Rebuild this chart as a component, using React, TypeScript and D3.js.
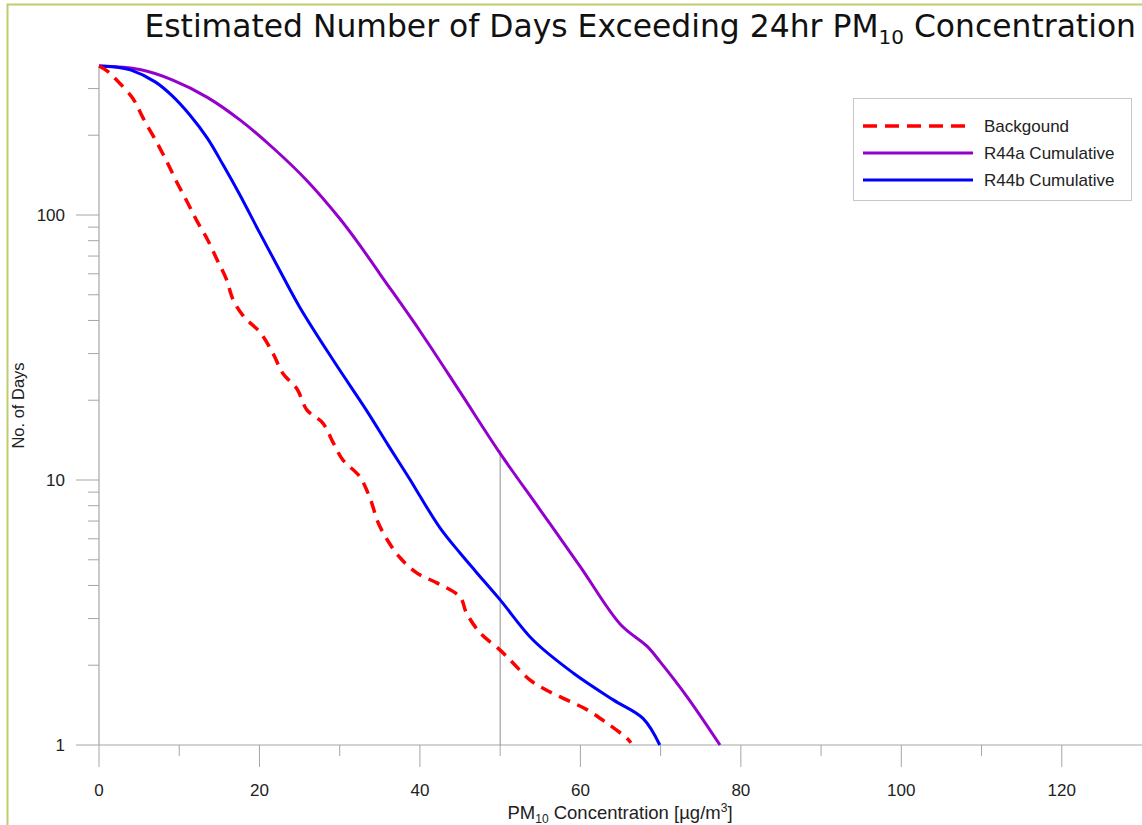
import React, { useEffect, useRef } from "react";
import * as d3 from "d3";

// [PM10 concentration, no. of days]
const background: [number, number][] = [
  [0, 365], [1, 350], [2.2, 323], [4.2, 276], [5.5, 232], [7.2, 188], [8.5, 158],
  [9.7, 133], [11, 112], [12.2, 95], [13.5, 81], [14.7, 68], [15.9, 57], [16.7, 48],
  [18, 41.5], [20.1, 36], [21.7, 30], [22.9, 25.3], [24.7, 22], [25.9, 18.4],
  [27.9, 16.4], [29.2, 13.8], [30.4, 11.9], [32.5, 10.3], [33.8, 8.5], [34.8, 6.9],
  [36, 5.9], [37.5, 5.1], [39.6, 4.46], [42.1, 4.09], [45, 3.62], [45.8, 3.15],
  [47.5, 2.65], [50, 2.28], [51.6, 2.04], [53.7, 1.76], [55.8, 1.61], [58.3, 1.48],
  [60.8, 1.36], [63.3, 1.21], [65.8, 1.06], [66.3, 1.02],
];

const r44a: [number, number][] = [
  [0, 365], [5.1, 354], [9.2, 323], [13.5, 278], [17.6, 228], [21.7, 179],
  [25.9, 135], [30, 97], [32.5, 77], [35, 60], [40, 36.5], [45, 21.5], [50, 12.6],
  [55, 7.7], [60, 4.7], [65, 2.85], [68.3, 2.36], [70, 2.05], [73.3, 1.52], [77.4, 1],
];

const r44b: [number, number][] = [
  [0, 365], [2, 362], [4, 352], [7, 318], [9, 284], [11.3, 239], [13.5, 195],
  [15.5, 154], [17.5, 120], [20, 86], [22.5, 62], [25, 45], [29.2, 28.3],
  [33.4, 18.2], [36, 13.6], [38.8, 10], [40, 8.7], [42.5, 6.6], [45, 5.3], [47, 4.5],
  [50, 3.53], [54.1, 2.49], [59.1, 1.87], [64.1, 1.48], [67.8, 1.26], [69.9, 1],
];

const seriesNames = ["Backgound", "R44a Cumulative", "R44b Cumulative"];
const seriesColors = ["#ff0000", "#9400cc", "#0000ff"];

const xMajorTicks = [0, 20, 40, 60, 80, 100, 120];
const xMinorTicks = [10, 30, 50, 70, 90, 110];
const yMajorTicks = [1, 10, 100];
const yMinorTicks = [2, 3, 4, 5, 6, 7, 8, 9, 20, 30, 40, 50, 60, 70, 80, 90, 200, 300];
const markerConc = 50;

const W = 1142;
const H = 825;

const App = () => {
  const ref = useRef<SVGSVGElement | null>(null);

  useEffect(() => {
    const svg = d3.select(ref.current);
    svg.selectAll("*").remove();

    const x = d3.scaleLinear().domain([0, 130]).range([99, 1142]);
    const y = d3.scaleLog().domain([1, 365]).range([745, 66]);
    const axisColor = "#a6a6a6";
    const font = "'Liberation Sans', Arial, sans-serif";

    // outer frame
    svg
      .append("rect")
      .attr("x", 7.5)
      .attr("y", 4.5)
      .attr("width", W + 20)
      .attr("height", H + 20)
      .attr("fill", "#fff")
      .attr("stroke", "#bfcc6a")
      .attr("stroke-width", 2);

    // title
    const title = svg
      .append("text")
      .attr("x", 1136)
      .attr("y", 37)
      .attr("text-anchor", "end")
      .attr("font-family", "'DejaVu Sans', Verdana, sans-serif")
      .attr("font-size", 31.4)
      .attr("fill", "#111");
    title.append("tspan").text("Estimated Number of Days Exceeding 24hr PM");
    title.append("tspan").attr("font-size", 20).attr("dy", 7).text("10");
    title.append("tspan").attr("dy", -7).text(" Concentration");

    const g = svg.append("g");

    // axes lines
    g.append("line")
      .attr("x1", x(0)).attr("x2", W)
      .attr("y1", y(1)).attr("y2", y(1))
      .attr("stroke", axisColor).attr("stroke-width", 1.2);
    g.append("line")
      .attr("x1", x(0)).attr("x2", x(0))
      .attr("y1", y(365)).attr("y2", y(1))
      .attr("stroke", axisColor).attr("stroke-width", 1.2);

    // x ticks
    g.selectAll(".xmaj")
      .data(xMajorTicks)
      .join("line")
      .attr("x1", (d) => x(d)).attr("x2", (d) => x(d))
      .attr("y1", y(1)).attr("y2", y(1) + 22)
      .attr("stroke", axisColor);
    g.selectAll(".xmin")
      .data(xMinorTicks)
      .join("line")
      .attr("x1", (d) => x(d)).attr("x2", (d) => x(d))
      .attr("y1", y(1)).attr("y2", y(1) + 11)
      .attr("stroke", axisColor);
    g.selectAll(".xlab")
      .data(xMajorTicks)
      .join("text")
      .attr("x", (d) => x(d))
      .attr("y", 796)
      .attr("text-anchor", "middle")
      .attr("font-family", font)
      .attr("font-size", 17)
      .attr("fill", "#222")
      .text((d) => d);

    // y ticks
    g.selectAll(".ymaj")
      .data(yMajorTicks)
      .join("line")
      .attr("x1", x(0) - 23).attr("x2", x(0))
      .attr("y1", (d) => y(d)).attr("y2", (d) => y(d))
      .attr("stroke", axisColor);
    g.selectAll(".ymin")
      .data(yMinorTicks)
      .join("line")
      .attr("x1", x(0) - 11).attr("x2", x(0))
      .attr("y1", (d) => y(d)).attr("y2", (d) => y(d))
      .attr("stroke", axisColor);
    g.selectAll(".ylab")
      .data(yMajorTicks)
      .join("text")
      .attr("x", 65)
      .attr("y", (d) => y(d) + 6)
      .attr("text-anchor", "end")
      .attr("font-family", font)
      .attr("font-size", 17)
      .attr("fill", "#222")
      .text((d) => d);

    // axis titles
    const xt = g
      .append("text")
      .attr("x", 620)
      .attr("y", 819)
      .attr("text-anchor", "middle")
      .attr("font-family", font)
      .attr("font-size", 18.5)
      .attr("fill", "#222");
    xt.append("tspan").text("PM");
    xt.append("tspan").attr("font-size", 12).attr("dy", 4).text("10");
    xt.append("tspan").attr("dy", -4).text(" Concentration [\u00b5g/m");
    xt.append("tspan").attr("font-size", 12).attr("dy", -7).text("3");
    xt.append("tspan").attr("dy", 7).text("]");

    g.append("text")
      .attr("transform", `translate(24,${(y(1) + y(365)) / 2}) rotate(-90)`)
      .attr("text-anchor", "middle")
      .attr("font-family", font)
      .attr("font-size", 16.5)
      .attr("fill", "#222")
      .text("No. of Days");

    // marker line at 50
    const mk = r44a.find((d) => d[0] === markerConc);
    g.append("line")
      .attr("x1", x(markerConc)).attr("x2", x(markerConc))
      .attr("y1", y(1)).attr("y2", y(mk ? mk[1] : 1) - 3)
      .attr("stroke", "#8c8c8c")
      .attr("stroke-width", 1);

    const line = d3
      .line<[number, number]>()
      .x((d) => x(d[0]))
      .y((d) => y(d[1]))
      .curve(d3.curveCatmullRom.alpha(0.5));

    const series = [background, r44a, r44b];
    // draw purple and blue first, dashed red on top
    [1, 2, 0].forEach((i) => {
      g.append("path")
        .attr("d", line(series[i]))
        .attr("fill", "none")
        .attr("stroke", seriesColors[i])
        .attr("stroke-width", i === 0 ? 3.5 : 3)
        .attr("stroke-dasharray", i === 0 ? "12,8" : null);
    });

    // legend
    const lg = svg.append("g");
    lg.append("rect")
      .attr("x", 853.5).attr("y", 98.5)
      .attr("width", 278).attr("height", 102)
      .attr("fill", "#fff")
      .attr("stroke", "#c8c8c8");
    seriesNames.forEach((name, i) => {
      const ly = 126 + i * 27;
      lg.append("line")
        .attr("x1", 863).attr("x2", 973)
        .attr("y1", ly).attr("y2", ly)
        .attr("stroke", seriesColors[i])
        .attr("stroke-width", i === 0 ? 3.5 : 3)
        .attr("stroke-dasharray", i === 0 ? "14,8" : null);
      lg.append("text")
        .attr("x", 984).attr("y", ly + 6)
        .attr("font-family", font)
        .attr("font-size", 17)
        .attr("fill", "#222")
        .text(name);
    });
  }, []);

  return (
    <svg
      ref={ref}
      width={W}
      height={H}
      style={{ position: "absolute", left: 0, top: 0, background: "#fff" }}
    />
  );
};

export default App;
